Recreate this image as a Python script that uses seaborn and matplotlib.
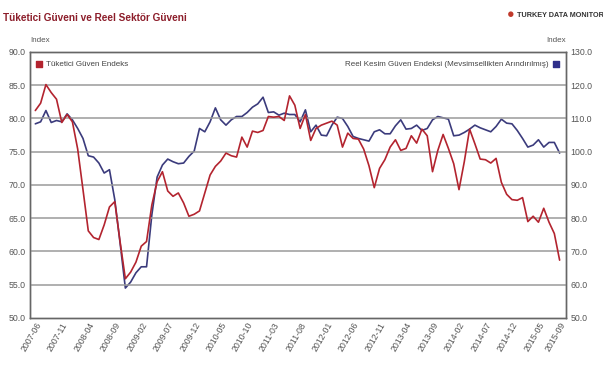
import numpy as np
import pandas as pd
import matplotlib
matplotlib.use("Agg")
import matplotlib.pyplot as plt
import seaborn as sns

# monthly, 2007-06 .. 2015-09
months = pd.period_range("2007-06", "2015-09", freq="M").strftime("%Y-%m").tolist()

tuketici = [81.2, 82.3, 85.1, 83.9, 82.9, 79.4, 80.6, 79.5, 75.4, 69.3,
            63.1, 62.1, 61.8, 64.0, 66.7, 67.5, 61.5, 55.9, 56.9, 58.4,
            60.8, 61.5, 67.0, 70.5, 72.0, 69.1, 68.3, 68.8, 67.3, 65.3,
            65.6, 66.1, 68.8, 71.5, 72.8, 73.6, 74.8, 74.4, 74.2, 77.2,
            75.7, 78.1, 77.9, 78.2, 80.3, 80.2, 80.3, 79.7, 83.4, 82.0,
            78.5, 80.6, 76.7, 78.5, 79.0, 79.3, 79.6, 79.0, 75.7, 77.8,
            77.0, 76.9, 75.4, 72.9, 69.6, 72.5, 73.8, 75.7, 76.8, 75.2,
            75.5, 77.4, 76.3, 78.4, 77.4, 72.0, 75.2, 77.6, 75.5, 73.2,
            69.3, 73.5, 78.4, 76.2, 73.9, 73.8, 73.3, 74.0, 70.4, 68.6,
            67.8, 67.7, 68.1, 64.5, 65.3, 64.4, 66.5, 64.4, 62.7, 58.7]

reel_kesim = [108.4, 109.0, 112.4, 108.8, 109.4, 109.0, 111.4, 109.6, 107.0, 104.0,
              98.8, 98.4, 96.6, 93.6, 94.6, 85.6, 72.6, 59.0, 60.8, 63.6,
              65.4, 65.4, 81.0, 92.4, 96.0, 97.8, 97.0, 96.4, 96.6, 98.6,
              100.2, 107.0, 106.0, 109.0, 113.2, 109.6, 108.0, 109.6, 110.6, 110.6,
              111.8, 113.4, 114.4, 116.4, 111.8, 112.0, 111.0, 111.6, 111.2, 111.2,
              109.0, 112.6, 106.0, 108.0, 105.0, 104.8, 108.0, 110.4, 110.0, 107.6,
              104.6, 104.0, 103.6, 103.2, 106.0, 106.6, 105.4, 105.4, 107.8, 109.6,
              106.8, 107.0, 108.0, 106.4, 107.0, 109.6, 110.6, 110.2, 109.8, 104.8,
              105.0, 105.8, 106.8, 108.0, 107.2, 106.6, 106.0, 107.6, 109.8, 108.6,
              108.4, 106.4, 104.0, 101.4, 102.0, 103.6, 101.4, 102.8, 102.8, 99.6]

tick_labels = ["2007-06", "2007-11", "2008-04", "2008-09", "2009-02", "2009-07",
               "2009-12", "2010-05", "2010-10", "2011-03", "2011-08", "2012-01",
               "2012-06", "2012-11", "2013-04", "2013-09", "2014-02", "2014-07",
               "2014-12", "2015-05", "2015-09"]
left_ticks = [50, 55, 60, 65, 70, 75, 80, 85, 90]
right_ticks = [50, 60, 70, 80, 90, 100, 110, 120, 130]

RED = "#b3242f"
BLUE = "#3b3b7c"
GREY = "#555555"

sns.set_style("white")
plt.rcParams["font.family"] = ["Liberation Sans", "DejaVu Sans"]

df = pd.DataFrame({"idx": np.arange(len(months)), "month": months,
                   "tuketici": tuketici, "reel": reel_kesim})

fig = plt.figure(figsize=(6.03, 3.68), dpi=100)
ax = fig.add_axes([0.0498, 0.1359, 0.8888, 0.7228])
ax2 = ax.twinx()

sns.lineplot(data=df, x="idx", y="tuketici", ax=ax, color=RED, linewidth=1.2)
sns.lineplot(data=df, x="idx", y="reel", ax=ax2, color=BLUE, linewidth=1.2)
ax.set_zorder(ax2.get_zorder() + 1)
ax.patch.set_visible(False)

ax.set_ylim(50, 90)
ax2.set_ylim(50, 130)
ax.set_xlim(-1, 100.2)
ax.set_yticks(left_ticks)
ax.set_yticklabels([f"{v:.1f}" for v in left_ticks])
ax2.set_yticks(right_ticks)
ax2.set_yticklabels([f"{v:.1f}" for v in right_ticks])

tick_pos = [months.index(t) for t in tick_labels]
ax.set_xticks(tick_pos)
ax.set_xticklabels(tick_labels, rotation=60, ha="right", rotation_mode="anchor")

for a in (ax, ax2):
    a.set_xlabel("")
    a.set_ylabel("")
    a.tick_params(length=0, labelsize=6.3, colors=GREY, pad=3)
    for s in a.spines.values():
        s.set_color("#666666")
        s.set_linewidth(1.0)
ax.tick_params(axis="x", pad=2)

for v in left_ticks[1:-1]:
    ax.axhline(v, color="#9a9a9a", linewidth=1.1, zorder=0)

# legends as small squares with text
ax.scatter([0.017], [0.953], transform=ax.transAxes, marker="s", s=16, color=RED, clip_on=False)
ax.text(0.03, 0.953, "Tüketici Güven Endeks", transform=ax.transAxes,
        fontsize=5.8, color="#444444", va="center", ha="left")
ax.scatter([0.982], [0.953], transform=ax.transAxes, marker="s", s=16, color="#2e2e8a", clip_on=False)
ax.text(0.968, 0.953, "Reel Kesim Güven Endeksi (Mevsimsellikten Arındırılmış)",
        transform=ax.transAxes, fontsize=5.8, color="#444444", va="center", ha="right")

ax.text(0.0, 1.03, "Index", transform=ax.transAxes, fontsize=5.8, color=GREY, ha="left", va="bottom")
ax.text(1.0, 1.03, "Index", transform=ax.transAxes, fontsize=5.8, color=GREY, ha="right", va="bottom")

fig.text(0.005, 0.95, "Tüketici Güveni ve Reel Sektör Güveni", fontsize=7.2,
         fontweight="bold", color="#8c1d2a", ha="left", va="center")
fig.text(0.846, 0.958, "●", fontsize=9, color="#c0392b", ha="center", va="center")
fig.text(0.858, 0.958, "TURKEY DATA MONITOR", fontsize=5.2, fontweight="bold",
         color="#333333", ha="left", va="center")

fig.savefig("out.png", dpi=100)
